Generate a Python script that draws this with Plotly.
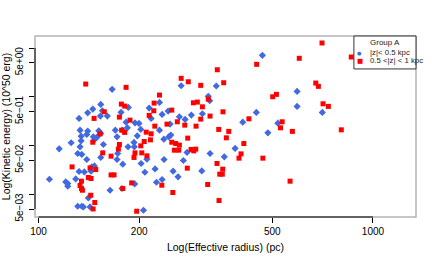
import math
import plotly.graph_objects as go

# ---------------- data ----------------
blue_name = "|z|< 0.5 kpc"
red_name = "0.5 <|z| < 1 kpc"
legend_title = "Group A"

blue_radius = [166, 267, 340, 153.5, 145.3, 140.3, 155.2, 153.1, 160.6, 176.5,
               185.6, 230, 214.2, 234.2, 244, 263.7, 286.4, 309, 321.8, 325,
               132.2, 217.1, 274.3, 125.2, 115.3, 133.1, 134.1, 134.1, 139.4, 140.3,
               145.9, 147.3, 149.9, 151.4, 153.5, 156.3, 133.1, 131, 134.7, 139.4,
               153.5, 169.7, 178.1, 171.7, 184.3, 182.7, 194.3, 199.7, 202.2, 197.4,
               193, 185.2, 193.4, 172.5, 171.7, 178.6, 202.6, 210.9, 208, 223.1,
               237.3, 237, 245.2, 248.6, 230, 247.4, 278, 271.1, 252.6, 261.3,
               307.7, 325.7, 359.3, 387, 234.2, 225.2, 177.7, 163.6, 193.9, 143.6,
               137.1, 146.9, 144.3, 132.2, 129.2, 120.6, 122.3, 122.3, 107.8, 140.9,
               131, 134.7, 136.2, 142.6, 206, 467, 593, 593, 705.5, 448,
               408, 519.4, 485]
blue_energy = [1.42, 1.68, 1.66, 0.698, 0.559, 0.469, 0.516, 0.402, 0.402, 0.479,
               0.606, 0.767, 0.586, 0.435, 0.509, 0.388, 0.421, 0.448, 1.02, 0.828,
               0.360, 0.360, 0.344, 0.114, 0.0855, 0.207, 0.156, 0.125, 0.169, 0.198,
               0.151, 0.133, 0.151, 0.200, 0.177, 0.105, 0.094, 0.0688, 0.0657, 0.0518,
               0.0570, 0.207, 0.207, 0.151, 0.231, 0.302, 0.292, 0.284, 0.214, 0.158,
               0.116, 0.094, 0.094, 0.0688, 0.0518, 0.0415, 0.0429, 0.0526, 0.0284, 0.0332,
               0.0518, 0.135, 0.151, 0.164, 0.207, 0.275, 0.0722, 0.0494, 0.0298, 0.0228,
               0.0302, 0.0688, 0.0586, 0.0872, 0.0201, 0.0177, 0.01315, 0.01214, 0.01635, 0.0298,
               0.0288, 0.0383, 0.0365, 0.0294, 0.0207, 0.01798, 0.01667, 0.01466, 0.0204, 0.00844,
               0.0057, 0.0057, 0.00551, 0.00551, 0.00472, 7.08, 1.29, 0.635, 0.478, 0.478,
               0.302, 0.288, 0.182]

red_radius = [138.4, 182.7, 267, 280.4, 305.5, 342.4, 357.8, 230, 221.6, 176.9,
              181, 157.3, 221.1, 250.3, 290.4, 298.4, 309, 321.8, 356.1, 174.5,
              146.6, 187.7, 214.2, 305.5, 325.7, 152.8, 145.3, 155.6, 164.8, 174.5,
              173.3, 177.3, 181, 209.9, 217.1, 216.1, 207, 202.2, 194.3, 193,
              203.6, 210.9, 222.7, 242.2, 260, 273.7, 295.8, 250.3, 257.2, 263.7,
              254.8, 262.6, 279.3, 285.8, 291.2, 295.2, 345.8, 370.5, 364.4, 403.2,
              341.7, 355.4, 348.2, 354.5, 278.5, 320.5, 233.7, 252.1, 346.5, 189.9,
              178.6, 164.8, 168.2, 142.6, 148.3, 126, 140.9, 143.6, 134.4, 133.1,
              134.4, 135.3, 143.3, 147.3, 145.6, 196.6, 704, 861, 602, 449,
              674.5, 686.6, 501.4, 514.4, 709, 735.5, 425.7, 535, 529, 574,
              804, 411, 397.6, 468.6, 565]
red_energy = [1.823, 1.56, 2.387, 2.03, 1.714, 3.584, 1.939, 1.084, 0.742, 0.708,
              0.644, 0.492, 0.516, 0.533, 0.753, 0.778, 0.623, 0.897, 0.492, 0.383,
              0.360, 0.332, 0.415, 0.348, 0.402, 0.174, 0.117, 0.0708, 0.0606, 0.105,
              0.0844, 0.207, 0.186, 0.188, 0.174, 0.131, 0.121, 0.0986, 0.0708, 0.0570,
              0.0708, 0.0615, 0.250, 0.275, 0.307, 0.262, 0.250, 0.117, 0.110, 0.102,
              0.0804, 0.0804, 0.142, 0.0832, 0.0778, 0.0844, 0.214, 0.195, 0.144, 0.0675,
              0.0429, 0.0328, 0.0259, 0.0259, 0.0344, 0.0159, 0.01538, 0.01089, 0.00746, 0.01715,
              0.01315, 0.0250, 0.0250, 0.0348, 0.0323, 0.0365, 0.0221, 0.0211, 0.0186, 0.01516,
              0.01315, 0.01214, 0.00958, 0.00679, 0.00501, 0.0045, 12.67, 6.535, 6.145, 4.628,
              1.911, 1.635, 1.0, 1.12, 0.718, 0.635, 0.3535, 0.307, 0.231, 0.195,
              0.210, 0.110, 0.0551, 0.0551, 0.0186]

x_tickvals = [100, 200, 500, 1000]
x_ticktext = ["100", "200", "500", "1000"]
y_tickvals = [0.005, 0.01, 0.05, 0.1, 0.5, 1, 5, 10]
y_ticktext = ["5e\u221203", "", "5e\u221202", "", "5e\u221201", "", "5e+00", ""]

# ---------------- style ----------------
FONT = "Liberation Sans, Arial, Helvetica, sans-serif"
BLUE = "#4169E1"
RED = "#FF0000"
X_RANGE = [1.9895, 3.1286]
Y_RANGE = [-2.465, 1.246]

fig = go.Figure()
fig.add_trace(go.Scatter(x=blue_radius, y=blue_energy, mode="markers", name=blue_name,
                         marker=dict(symbol="diamond", size=5.5, color=BLUE,
                                     line=dict(width=0)),
                         showlegend=False))
fig.add_trace(go.Scatter(x=red_radius, y=red_energy, mode="markers", name=red_name,
                         marker=dict(symbol="square", size=5, color=RED,
                                     line=dict(width=0)),
                         showlegend=False))


def xfrac(v):
    return (math.log10(v) - X_RANGE[0]) / (X_RANGE[1] - X_RANGE[0])


def yfrac(v):
    return (math.log10(v) - Y_RANGE[0]) / (Y_RANGE[1] - Y_RANGE[0])


shapes = [
    # grey plot box
    dict(type="rect", xref="paper", yref="paper", x0=0, x1=1, y0=0, y1=1,
         line=dict(color="#b4b4b4", width=1.5), layer="above"),
    # black axis lines spanning the tick range
    dict(type="line", xref="paper", yref="paper",
         x0=xfrac(min(x_tickvals)), x1=xfrac(max(x_tickvals)), y0=0, y1=0,
         line=dict(color="black", width=1), layer="above"),
    dict(type="line", xref="paper", yref="paper",
         x0=0, x1=0, y0=yfrac(min(y_tickvals)), y1=yfrac(max(y_tickvals)),
         line=dict(color="black", width=1), layer="above"),
    # legend box
    dict(type="rect", xref="paper", yref="paper", x0=0.837, x1=1.0, y0=0.818, y1=1.0,
         line=dict(color="#333333", width=1), fillcolor="white", layer="above"),
]

ann = [
    dict(text=legend_title, x=0.919, y=0.965, xref="paper", yref="paper",
         showarrow=False, xanchor="center", yanchor="middle",
         font=dict(family=FONT, size=8, color="#222")),
    dict(text="\u25CF", x=0.853, y=0.908, xref="paper", yref="paper",
         showarrow=False, xanchor="center", yanchor="middle",
         font=dict(family="DejaVu Sans", size=5, color=BLUE)),
    dict(text=blue_name, x=0.873, y=0.908, xref="paper", yref="paper",
         showarrow=False, xanchor="left", yanchor="middle",
         font=dict(family=FONT, size=7.8, color="#222")),
    dict(text="\u25A0", x=0.853, y=0.8635, xref="paper", yref="paper",
         showarrow=False, xanchor="center", yanchor="middle",
         font=dict(family="DejaVu Sans", size=6.5, color=RED)),
    dict(text=red_name, x=0.873, y=0.8635, xref="paper", yref="paper",
         showarrow=False, xanchor="left", yanchor="middle",
         font=dict(family=FONT, size=7.8, color="#222")),
]

fig.update_layout(
    width=436, height=262,
    margin=dict(l=35, r=20, t=36, b=45, autoexpand=False),
    plot_bgcolor="white", paper_bgcolor="white",
    font=dict(family=FONT, size=10, color="black"),
    shapes=shapes, annotations=ann,
    showlegend=False,
    xaxis=dict(type="log", range=X_RANGE, tickvals=x_tickvals, ticktext=x_ticktext,
               automargin=False,
               ticks="outside", ticklen=5, tickcolor="black", tickwidth=1,
               showgrid=False, zeroline=False, showline=False,
               tickfont=dict(family=FONT, size=10, color="black"),
               title=dict(text="Log(Effective radius) (pc)", standoff=7,
                          font=dict(family=FONT, size=10.5, color="black"))),
    yaxis=dict(type="log", range=Y_RANGE, tickvals=y_tickvals, ticktext=y_ticktext,
               automargin=False,
               ticks="outside", ticklen=5, tickcolor="black", tickwidth=1,
               tickangle=-90, ticklabelstandoff=2,
               showgrid=False, zeroline=False, showline=False,
               tickfont=dict(family=FONT, size=10, color="black"),
               title=dict(text="Log(Kinetic energy) (10^50 erg)", standoff=6,
                          font=dict(family=FONT, size=10.5, color="black"))),
)

fig.write_html("out.html",
               config={"displayModeBar": False},
               post_script="document.body.style.margin='0';document.body.style.overflow='hidden';")
